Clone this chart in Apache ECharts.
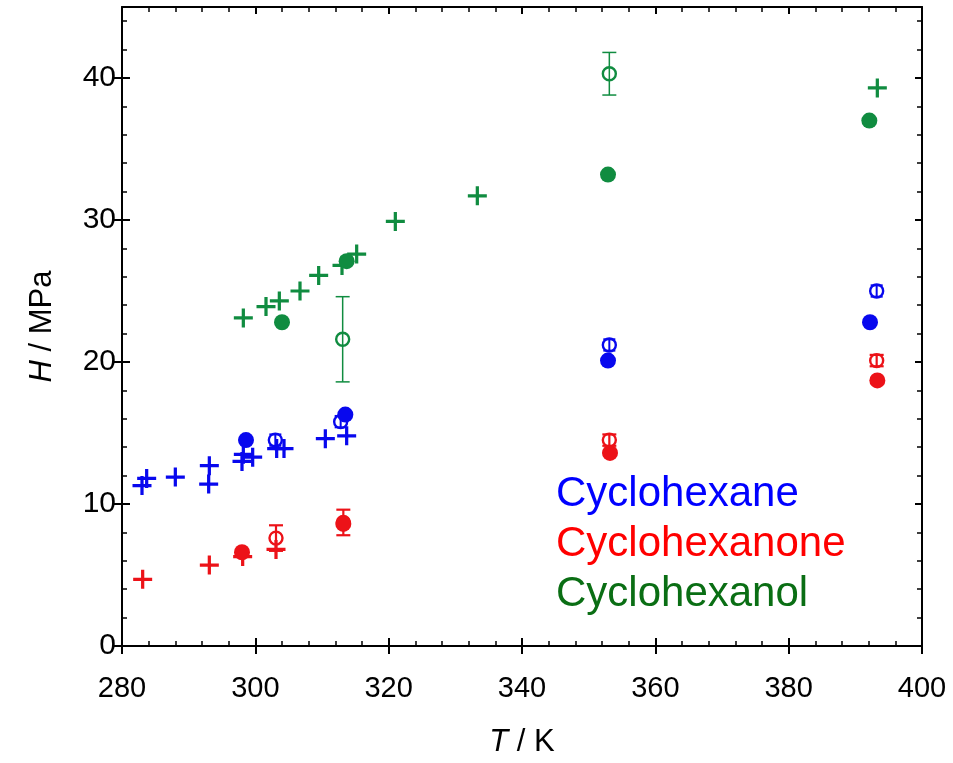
<!DOCTYPE html>
<html>
<head>
<meta charset="utf-8">
<script src="https://cdn.jsdelivr.net/npm/echarts@6/dist/echarts.min.js"></script>
<style>html,body{margin:0;padding:0;background:#fff}#c{width:953px;height:763px}</style>
</head>
<body>
<div id="c"></div>
<script>
// ---- tick labels ----
const xTicks = [280, 300, 320, 340, 360, 380, 400];
const yTicks = [0, 10, 20, 30, 40];
const xMinor = [284, 288, 292, 296, 304, 308, 312, 316, 324, 328, 332, 336, 344, 348, 352, 356, 364, 368, 372, 376, 384, 388, 392, 396];
const yMinor = [2, 4, 6, 8, 12, 14, 16, 18, 22, 24, 26, 28, 32, 34, 36, 38, 42, 44];

// ---- Cyclohexane (blue) ----
const hexaneCrossT = [283.0, 283.7, 288.0, 293.0, 293.1, 298.0, 298.2, 299.6, 303.2, 304.3, 310.5, 313.7];
const hexaneCrossH = [11.3, 11.8, 11.9, 11.4, 12.7, 13.0, 13.5, 13.3, 13.9, 13.9, 14.6, 14.8];
const hexaneFilledT = [298.6, 313.5, 352.9, 392.2];
const hexaneFilledH = [14.5, 16.3, 20.1, 22.8];
const hexaneOpenT = [303.0, 312.8, 353.1, 393.2];
const hexaneOpenH = [14.5, 15.8, 21.2, 25.0];
const hexaneOpenErr = [0.4, 0.4, 0.4, 0.4];

// ---- Cyclohexanone (red) ----
const anoneCrossT = [283.1, 293.1, 298.1, 303.1];
const anoneCrossH = [4.7, 5.7, 6.3, 6.8];
const anoneFilledT = [298.0, 313.2, 353.2, 393.3];
const anoneFilledH = [6.6, 8.6, 13.6, 18.7];
const anoneOpenT = [303.1, 313.2, 353.1, 393.2];
const anoneOpenH = [7.6, 8.7, 14.5, 20.1];
const anoneOpenErr = [0.9, 0.9, 0.4, 0.4];

// ---- Cyclohexanol (green) ----
const anolCrossT = [298.2, 301.6, 303.6, 306.7, 309.5, 313.0, 315.2, 321.0, 333.3, 393.3];
const anolCrossH = [23.1, 23.9, 24.3, 25.0, 26.1, 26.8, 27.6, 29.9, 31.7, 39.3];
const anolFilledT = [304.0, 313.7, 352.9, 392.1];
const anolFilledH = [22.8, 27.1, 33.2, 37.0];
const anolOpenT = [313.1, 353.1];
const anolOpenH = [21.6, 40.3];
const anolOpenErr = [3.0, 1.5];

const legendNames = ['Cyclohexane', 'Cyclohexanone', 'Cyclohexanol'];

// ---- styles ----
const BLUE = '#0808ee', RED = '#ec1218', GREEN = '#108c40';
const LEG = ['#0000ff', '#ff0000', '#0a6e14'];
const FONT = '"Liberation Sans", Arial, sans-serif';
const PLUS = 'path://M-1,-0.17H-0.17V-1H0.17V-0.17H1V0.17H0.17V1H-0.17V0.17H-1Z';

const zip = (a, b) => a.map((v, i) => [v, b[i]]);
const zip3 = (a, b, c) => a.map((v, i) => [v, b[i], c[i]]);

function crossSeries(t, h, color) {
  return { type: 'scatter', xAxisIndex: 0, yAxisIndex: 0, data: zip(t, h), symbol: PLUS, symbolSize: 19,
    itemStyle: { color: color, opacity: 1 }, z: 3 };
}
function filledSeries(t, h, color) {
  return { type: 'scatter', xAxisIndex: 0, yAxisIndex: 0, data: zip(t, h), symbol: 'circle', symbolSize: 16,
    itemStyle: { color: color, opacity: 1 }, z: 5 };
}
function openSeries(t, h, color) {
  return { type: 'scatter', xAxisIndex: 0, yAxisIndex: 0, data: zip(t, h), symbol: 'circle', symbolSize: 13,
    itemStyle: { color: 'rgba(0,0,0,0)', borderColor: color, borderWidth: 2.4, opacity: 1 }, z: 4 };
}
function errSeries(t, h, e, color, lw, cap) {
  return { type: 'custom', xAxisIndex: 0, yAxisIndex: 0, data: zip3(t, h, e), z: 4,
    renderItem: function (params, api) {
      const x = api.value(0), y = api.value(1), er = api.value(2);
      const top = api.coord([x, y + er]);
      const bot = api.coord([x, y - er]);
      const st = { stroke: color, lineWidth: lw };
      return { type: 'group', children: [
        { type: 'line', shape: { x1: top[0], y1: top[1], x2: bot[0], y2: bot[1] }, style: st },
        { type: 'line', shape: { x1: top[0] - cap, y1: top[1], x2: top[0] + cap, y2: top[1] }, style: st },
        { type: 'line', shape: { x1: bot[0] - cap, y1: bot[1], x2: bot[0] + cap, y2: bot[1] }, style: st }
      ] };
    } };
}

const lineStyle = { color: '#000', width: 2 };
const baseX = { type: 'value', min: 280, max: 400, interval: 20, splitLine: { show: false } };
const baseY = { type: 'value', min: 0, max: 45, interval: 10, splitLine: { show: false } };
const nameStyle = { fontSize: 31, fontFamily: FONT, color: '#000', rich: { i: { fontStyle: 'italic', fontSize: 31, fontFamily: FONT, color: '#000' } } };

const option = {
  animation: false,
  backgroundColor: '#fff',
  grid: { left: 122, right: 31, top: 7, bottom: 114, containLabel: false },
  xAxis: [
    Object.assign({}, baseX, { position: 'bottom', axisLine: { lineStyle: lineStyle, onZero: false },
      axisTick: { inside: false, length: 8, customValues: xTicks, lineStyle: { color: '#000', width: 2 } },
      axisLabel: { customValues: xTicks, color: '#000', fontSize: 29, fontFamily: FONT, margin: 28 },
      name: '{i|T} / K', nameLocation: 'middle', nameGap: 81, nameTextStyle: nameStyle }),
    Object.assign({}, baseX, { position: 'bottom', axisLine: { show: false, onZero: false },
      axisTick: { inside: true, length: 8, customValues: xTicks, lineStyle: { color: '#000', width: 2 } },
      axisLabel: { show: false } }),
    Object.assign({}, baseX, { position: 'bottom', axisLine: { show: false, onZero: false },
      axisTick: { inside: true, length: 5, customValues: xMinor, lineStyle: { color: '#000', width: 1.5 } },
      axisLabel: { show: false } }),
    Object.assign({}, baseX, { position: 'top', axisLine: { lineStyle: lineStyle, onZero: false },
      axisTick: { inside: true, length: 7, customValues: xTicks, lineStyle: { color: '#000', width: 2 } },
      axisLabel: { show: false } }),
    Object.assign({}, baseX, { position: 'top', axisLine: { show: false, onZero: false },
      axisTick: { inside: true, length: 5, customValues: xMinor, lineStyle: { color: '#000', width: 1.5 } },
      axisLabel: { show: false } })
  ],
  yAxis: [
    Object.assign({}, baseY, { position: 'left', axisLine: { lineStyle: lineStyle, onZero: false },
      axisTick: { inside: false, length: 8, customValues: yTicks, lineStyle: { color: '#000', width: 2 } },
      axisLabel: { customValues: yTicks, color: '#000', fontSize: 30, fontFamily: FONT, margin: 6 },
      name: '{i|H} / MPa', nameLocation: 'middle', nameGap: 64, nameRotate: 90, nameTextStyle: nameStyle }),
    Object.assign({}, baseY, { position: 'left', axisLine: { show: false, onZero: false },
      axisTick: { inside: true, length: 8, customValues: yTicks, lineStyle: { color: '#000', width: 2 } },
      axisLabel: { show: false } }),
    Object.assign({}, baseY, { position: 'left', axisLine: { show: false, onZero: false },
      axisTick: { inside: true, length: 5, customValues: yMinor, lineStyle: { color: '#000', width: 1.5 } },
      axisLabel: { show: false } }),
    Object.assign({}, baseY, { position: 'right', axisLine: { lineStyle: lineStyle, onZero: false },
      axisTick: { inside: true, length: 7, customValues: yTicks, lineStyle: { color: '#000', width: 2 } },
      axisLabel: { show: false } }),
    Object.assign({}, baseY, { position: 'right', axisLine: { show: false, onZero: false },
      axisTick: { inside: true, length: 5, customValues: yMinor, lineStyle: { color: '#000', width: 1.5 } },
      axisLabel: { show: false } })
  ],
  graphic: legendNames.map((n, i) => ({
    type: 'text', left: 556, top: 473 + i * 50,
    style: { text: n, fill: LEG[i], font: '42px ' + FONT }
  })),
  series: [
    errSeries(hexaneOpenT, hexaneOpenH, hexaneOpenErr, BLUE, 2, 6),
    errSeries(anoneOpenT, anoneOpenH, anoneOpenErr, RED, 2.2, 7),
    errSeries(anolOpenT, anolOpenH, anolOpenErr, GREEN, 1.5, 7),
    crossSeries(hexaneCrossT, hexaneCrossH, BLUE),
    crossSeries(anoneCrossT, anoneCrossH, RED),
    crossSeries(anolCrossT, anolCrossH, GREEN),
    openSeries(hexaneOpenT, hexaneOpenH, BLUE),
    openSeries(anoneOpenT, anoneOpenH, RED),
    openSeries(anolOpenT, anolOpenH, GREEN),
    filledSeries(hexaneFilledT, hexaneFilledH, BLUE),
    filledSeries(anoneFilledT, anoneFilledH, RED),
    filledSeries(anolFilledT, anolFilledH, GREEN)
  ]
};
const chart = echarts.init(document.getElementById('c'), null, { renderer: 'canvas' });
chart.setOption(option);
</script>
</body>
</html>
